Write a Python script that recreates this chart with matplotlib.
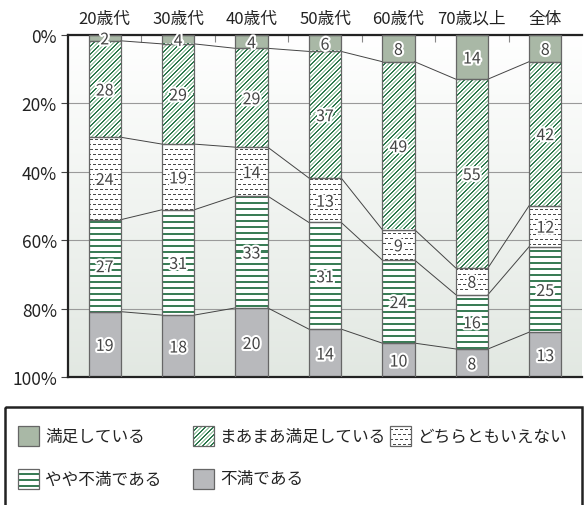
import numpy as np
import matplotlib
matplotlib.use('Agg')
import matplotlib.pyplot as plt
from matplotlib.patches import Rectangle
import matplotlib.patheffects as pe
from matplotlib.colors import to_rgba

plt.rcParams['font.family'] = ['Noto Sans CJK JP', 'DejaVu Sans']

# ---------------- data ----------------
categories = ['20歳代', '30歳代', '40歳代', '50歳代', '60歳代', '70歳以上', '全体']
series_names = ['満足している', 'まあまあ満足している', 'どちらともいえない', 'やや不満である', '不満である']

# segment sizes as drawn (%)
satisfied    = [1.7, 2.6, 3.9, 4.8, 7.8, 12.9, 7.8]
fairly_sat   = [28.2, 29.3, 28.9, 37.0, 49.1, 55.2, 42.1]
neutral      = [24.1, 19.2, 14.3, 13.0, 8.9, 7.8, 12.0]
slightly_dis = [26.9, 30.8, 32.7, 31.2, 24.3, 15.9, 25.0]
dissatisfied = [19.1, 18.1, 20.2, 14.0, 9.9, 8.2, 13.1]

# printed value labels
satisfied_lbl    = [2, 4, 4, 6, 8, 14, 8]
fairly_sat_lbl   = [28, 29, 29, 37, 49, 55, 42]
neutral_lbl      = [24, 19, 14, 13, 9, 8, 12]
slightly_dis_lbl = [27, 31, 33, 31, 24, 16, 25]
dissatisfied_lbl = [19, 18, 20, 14, 10, 8, 13]

yticks = [0, 20, 40, 60, 80, 100]
ytick_labels = ['0%', '20%', '40%', '60%', '80%', '100%']

# ---------------- styles ----------------
W, H, DPI = 584, 506, 100
C_SAT = '#a9b8a6'
C_DIS = '#b8b9bc'
C_DARKG = '#2e7a4e'
C_LIGHTG = '#a3cbad'
C_HLINE = '#3a7d56'
C_DASH = '#4a4a4a'
C_EDGE = '#666666'


def pattern_rgba(kind, rows, cols):
    arr = np.ones(rows.shape + (4,))
    def paint(mask, c):
        arr[mask] = to_rgba(c)
    if kind == 'diag':
        m = (rows + cols) % 8
        paint(m < 2, C_DARKG)
        paint((m >= 4) & (m < 6), C_LIGHTG)
    elif kind == 'hline':
        paint((rows % 6) < 2, C_HLINE)
    elif kind == 'dash':
        band = rows // 5
        off = (band % 2) * 2
        paint(((rows % 5) == 0) & (((cols + off) % 5) < 3), C_DASH)
    return arr


def fill_pattern(a, x0, x1, y0, y1, kind, zorder):
    t = a.transData
    p0 = t.transform((x0, y0))
    p1 = t.transform((x1, y1))
    left, right = sorted([p0[0], p1[0]])
    bot, top = sorted([p0[1], p1[1]])
    cl, cr = int(round(left)), int(round(right))
    db, dt = int(round(bot)), int(round(top))
    if cr - cl < 1 or dt - db < 1:
        return
    r0 = H - dt
    rr, cc = np.mgrid[r0:r0 + (dt - db), cl:cr]
    arr = pattern_rgba(kind, rr, cc)
    inv = t.inverted()
    dl = inv.transform((cl, dt))
    dr = inv.transform((cr, db))
    a.imshow(arr, extent=(dl[0], dr[0], dr[1], dl[1]), origin='upper',
             interpolation='nearest', aspect='auto', zorder=zorder)


fig = plt.figure(figsize=(W / DPI, H / DPI), dpi=DPI)
ax = fig.add_axes([68 / W, 1 - 378 / H, (582 - 68) / W, (378 - 36) / H])
n = len(categories)
x = np.arange(n)
bw = 0.44
ax.set_xlim(-0.5, n - 0.5)
ax.set_ylim(100, 0)

# background gradient
grad = np.linspace(0, 1, 256)[:, None, None]
top_c = np.array(to_rgba('#ffffff')[:3])
bot_c = np.array(to_rgba('#e2e8e2')[:3])
bg = top_c * (1 - grad) + bot_c * grad
ax.imshow(bg, extent=(0, 1, 0, 1), transform=ax.transAxes, aspect='auto',
          origin='upper', zorder=-5, interpolation='bilinear')

series = [satisfied, fairly_sat, neutral, slightly_dis, dissatisfied]
labels = [satisfied_lbl, fairly_sat_lbl, neutral_lbl, slightly_dis_lbl, dissatisfied_lbl]
styles = [('solid', C_SAT), ('diag', 'white'), ('dash', 'white'), ('hline', 'white'), ('solid', C_DIS)]

bottom = np.zeros(n)
cum = [bottom.copy()]
for vals, lbls, (kind, fc) in zip(series, labels, styles):
    vals = np.array(vals, dtype=float)
    bars = ax.bar(x, vals, bw, bottom=bottom, color=fc, edgecolor='none', zorder=2)
    if kind != 'solid':
        for b in bars:
            fill_pattern(ax, b.get_x(), b.get_x() + b.get_width(),
                         b.get_y(), b.get_y() + b.get_height(), kind, 2.2)
    ax.bar(x, vals, bw, bottom=bottom, fill=False, edgecolor=C_EDGE, lw=0.9, zorder=3)
    for xi, v, b0, l in zip(x, vals, bottom, lbls):
        ax.text(xi, b0 + v / 2, str(l), ha='center', va='center_baseline', fontsize=11.5,
                color='#444444', zorder=6,
                path_effects=[pe.withStroke(linewidth=3, foreground='white')])
    bottom = bottom + vals
    cum.append(bottom.copy())

# connecting lines between stacked boundaries
for k in range(1, len(series)):
    for i in range(n - 1):
        ax.plot([x[i] + bw / 2, x[i + 1] - bw / 2], [cum[k][i], cum[k][i + 1]],
                color='#444444', lw=0.7, zorder=2.5)

# axes styling
ax.set_xticks(x, categories)
ax.set_xticks(x[:-1] + 0.5, minor=True)
ax.tick_params(axis='x', which='major', top=True, bottom=False, labeltop=True,
               labelbottom=False, length=0, pad=6, labelsize=12, labelcolor='#222')
ax.tick_params(axis='x', which='minor', top=True, bottom=False, direction='in',
               length=5, color='#888888', width=0.8)
ax.set_yticks(yticks, ytick_labels)
ax.tick_params(axis='y', length=5, pad=3, labelsize=12.5, color='#444', labelcolor='#222')
ax.yaxis.grid(True, color='#9a9a9a', lw=0.8)
ax.set_axisbelow(True)
for s in ['left', 'top', 'bottom']:
    ax.spines[s].set_color('#222222')
    ax.spines[s].set_linewidth(1.6)
ax.spines['right'].set_visible(False)
ax.set_xlim(-0.5, n - 0.5)
ax.set_ylim(100, 0)

# ---------------- legend ----------------
lax = fig.add_axes([0, 0, 1, 1])
lax.set_xlim(0, W)
lax.set_ylim(H, 0)
lax.axis('off')
lax.add_patch(Rectangle((5, 408), 577, 130, fill=False, lw=1.8, edgecolor='#222222',
                        clip_on=False))
leg_cols = [18, 193, 390]
leg_rows = [437, 480]
positions = [(0, 0), (0, 1), (0, 2), (1, 0), (1, 1)]
for name, (kind, fc), (r, c) in zip(series_names, styles, positions):
    px, py = leg_cols[c], leg_rows[r]
    lax.add_patch(Rectangle((px, py - 10), 21, 20, facecolor=fc, edgecolor='none', zorder=2))
    if kind != 'solid':
        fill_pattern(lax, px, px + 21, py - 10, py + 10, kind, 2.2)
    lax.add_patch(Rectangle((px, py - 10), 21, 20, fill=False, edgecolor=C_EDGE, lw=0.9, zorder=3))
    lax.text(px + 27, py, name, va='center', ha='left', fontsize=12, color='#222222')

fig.savefig('out.png', dpi=DPI)
